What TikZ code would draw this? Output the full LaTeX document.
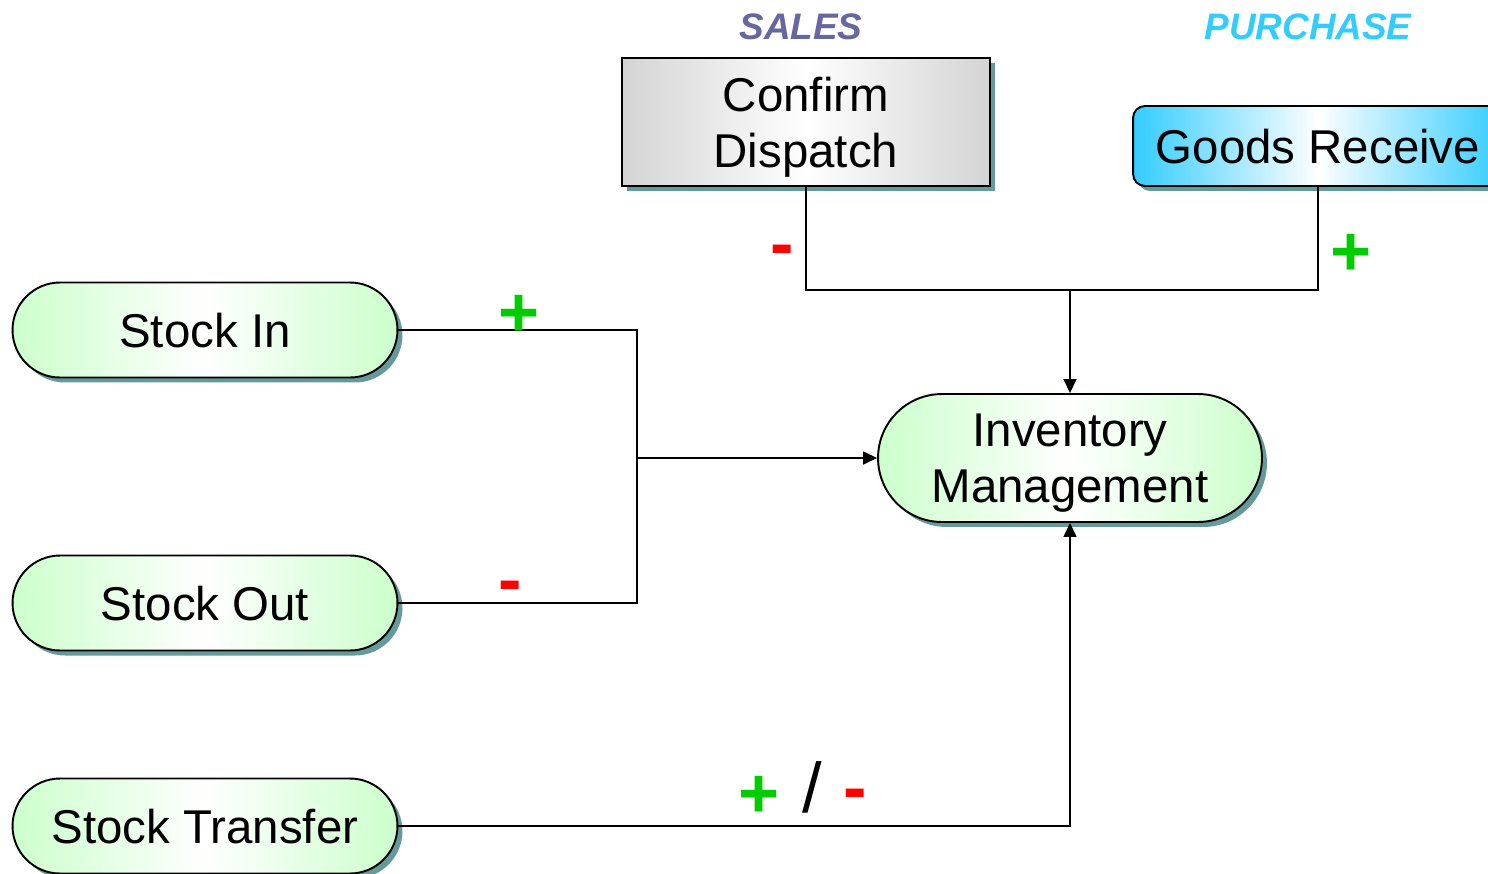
\documentclass[tikz,border=0pt]{standalone}
\usepackage{fontspec}
\setmainfont{Liberation Sans}
\usetikzlibrary{arrows.meta,shadows}
\definecolor{pillgreen}{RGB}{204,255,204}
\definecolor{skycyan}{RGB}{51,204,255}
\definecolor{boxgray}{RGB}{212,212,212}
\definecolor{shadowteal}{RGB}{102,153,153}
\definecolor{salesviolet}{RGB}{102,102,160}
\definecolor{plusgreen}{RGB}{0,204,0}
\definecolor{minusred}{RGB}{255,0,0}

\begin{document}
\begin{tikzpicture}[x=0.02cm, y=-0.02cm,
	boxshadow/.style={drop shadow={shadow xshift=0.1cm, shadow yshift=-0.1cm, fill=shadowteal, opacity=1}},
	label/.style={font=\fontsize{27}{32}\selectfont, align=center, inner sep=0pt, text depth=-2.5pt},
	pill/.style={label, draw, line width=1.1pt, rounded corners=0.95cm, minimum width=7.7cm, minimum height=1.9cm, left color=pillgreen, right color=pillgreen, middle color=white, boxshadow},
	side/.style={font=\fontsize{21}{21}\bfseries\itshape\selectfont},
	sign/.style={font=\fontsize{40}{40}\bfseries\selectfont, inner sep=0pt},
	link/.style={line width=0.85pt},
	tip/.style={link, -{Triangle[length=0.28cm,width=0.26cm]}}]

	\useasboundingbox (0,0) rectangle (1488,873);

	% headings
	\node[side, text=salesviolet] (sales) at (801,27) {SALES};
	\node[side, text=skycyan] (purchase) at (1308,27) {PURCHASE};

	% boxes
	\node[label, draw, line width=1.1pt, minimum width=7.36cm, minimum height=2.56cm, left color=boxgray, right color=boxgray, middle color=white, boxshadow] (dispatch) at (806,122) {Confirm\\Dispatch};
	\node[label, draw, line width=1.1pt, rounded corners=0.24cm, minimum width=7.4cm, minimum height=1.6cm, left color=skycyan, right color=skycyan, middle color=white, boxshadow] (receive) at (1318,146) {Goods Receive};
	\node[pill] (stockin) at (205,330) {Stock In};
	\node[pill] (stockout) at (205,603) {Stock Out};
	\node[pill] (transfer) at (205,826) {Stock Transfer};
	\node[pill, minimum width=7.68cm, minimum height=2.56cm, rounded corners=1.28cm] (inventory) at (1070,458) {Inventory\\Management};

	% connectors
	\coordinate (leftjoin) at (637,458);
	\coordinate (topjoin) at (1070,290);
	\draw[link] (stockin.east) -| (leftjoin);
	\draw[link] (stockout.east) -| (leftjoin);
	\draw[tip] (leftjoin) -- (inventory.west);
	\draw[link] (dispatch.south) |- (topjoin) -| (receive.south);
	\draw[tip] (topjoin) -- (inventory.north);
	\draw[tip] (transfer.east) -| (inventory.south);

	% signs
	\node[sign, text=plusgreen] (inplus) at (519,316) {+};
	\node[sign, text=minusred] (outminus) at (510,592) {-};
	\node[sign, text=minusred] (dispminus) at (782,256) {-};
	\node[sign, text=plusgreen] (recplus) at (1351,255) {+};
	\node[sign, text=plusgreen] (transplus) at (759,797) {+};
	\node[font=\fontsize{40}{40}\selectfont, inner sep=0pt] (transslash) at (812,787) {/};
	\node[sign, text=minusred] (transminus) at (855,800) {-};

\end{tikzpicture}
\end{document}
